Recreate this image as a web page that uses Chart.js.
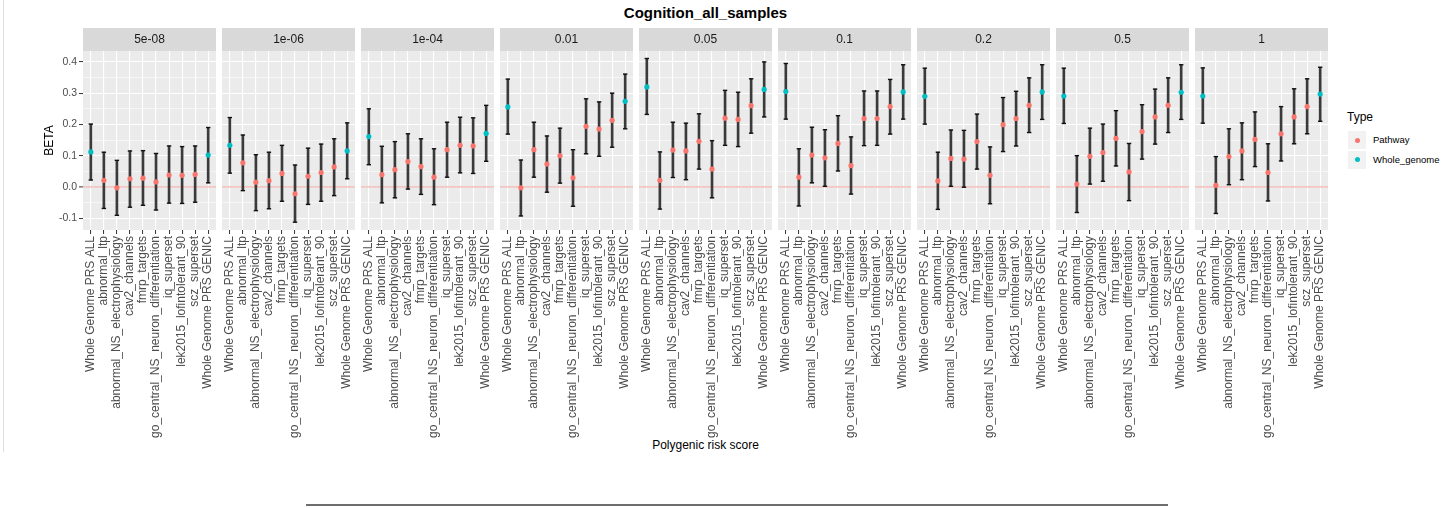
<!DOCTYPE html>
<html>
<head>
<meta charset="utf-8">
<script src="https://cdn.jsdelivr.net/npm/chart.js@4.4.1/dist/chart.umd.min.js"></script>
<style>
  html, body { margin: 0; padding: 0; }
  body { width: 1450px; height: 508px; background: #fff; position: relative; overflow: hidden;
         font-family: "Liberation Sans", Arial, sans-serif; }
  canvas { position: absolute; }
  .txt { position: absolute; white-space: nowrap; }
  #title { left: 0; width: 1411px; top: 4px; text-align: center; font-weight: bold; font-size: 15px; color: #000; }
  #xtitle { left: 0; width: 1411px; top: 438px; text-align: center; font-size: 12px; color: #000; }
  #legTitle { left: 1347px; top: 110px; font-size: 12px; color: #000; }
  .key { position: absolute; left: 1348px; width: 18px; height: 18px; background: #F2F2F2; }
  .dot { position: absolute; left: 6.5px; top: 6.5px; width: 5px; height: 5px; border-radius: 50%; }
  .legLab { left: 1373px; font-size: 9.5px; color: #000; }
  #frameL { position: absolute; left: 3px; top: 0; width: 1px; height: 452px; background: #DDDDDD; }
  #frameB { position: absolute; left: 306px; top: 504px; width: 862px; height: 2px; background: #6E6E6E; }
</style>
</head>
<body>
<div id="frameL"></div>
<div id="frameB"></div>
<div id="title" class="txt">Cognition_all_samples</div>
<div id="xtitle" class="txt">Polygenic risk score</div>
<div id="legTitle" class="txt">Type</div>
<div id="legend"></div>

<script>
// ---- data ----------------------------------------------------------------
const categories = [
  'Whole Genome PRS ALL', 'abnormal_ltp', 'abnormal_NS_electrophysiology', 'cav2_channels',
  'fmrp_targets', 'go_central_NS_neuron_differentiation', 'iq_superset',
  'lek2015_lofintolerant_90', 'scz_superset', 'Whole Genome PRS GENIC'
];
const categoryType = [
  'Whole_genome', 'Pathway', 'Pathway', 'Pathway', 'Pathway',
  'Pathway', 'Pathway', 'Pathway', 'Pathway', 'Whole_genome'
];
const thresholds = ['5e-08', '1e-06', '1e-04', '0.01', '0.05', '0.1', '0.2', '0.5', '1'];
const typeNames = ['Pathway', 'Whole_genome'];

const beta_5e08  = [0.112, 0.021, -0.003, 0.026, 0.028, 0.016, 0.038, 0.037, 0.040, 0.102];
const lower_5e08 = [0.022, -0.069, -0.091, -0.065, -0.059, -0.074, -0.052, -0.053, -0.049, 0.013];
const upper_5e08 = [0.201, 0.111, 0.085, 0.115, 0.116, 0.107, 0.131, 0.129, 0.131, 0.190];

const beta_1e06  = [0.133, 0.077, 0.015, 0.020, 0.043, -0.022, 0.034, 0.046, 0.064, 0.115];
const lower_1e06 = [0.044, -0.012, -0.076, -0.070, -0.046, -0.113, -0.056, -0.046, -0.028, 0.026];
const upper_1e06 = [0.222, 0.166, 0.103, 0.111, 0.133, 0.070, 0.124, 0.137, 0.154, 0.205];

const beta_1e04  = [0.161, 0.039, 0.055, 0.081, 0.065, 0.031, 0.119, 0.133, 0.131, 0.171];
const lower_1e04 = [0.071, -0.051, -0.035, -0.007, -0.024, -0.057, 0.031, 0.045, 0.043, 0.082];
const upper_1e04 = [0.250, 0.130, 0.145, 0.170, 0.154, 0.122, 0.207, 0.223, 0.221, 0.261];

const beta_001  = [0.256, -0.003, 0.119, 0.073, 0.100, 0.029, 0.194, 0.185, 0.213, 0.274];
const lower_001 = [0.169, -0.093, 0.031, -0.017, 0.012, -0.062, 0.106, 0.098, 0.127, 0.186];
const upper_001 = [0.345, 0.086, 0.207, 0.163, 0.188, 0.119, 0.282, 0.272, 0.300, 0.361];

const beta_005  = [0.320, 0.021, 0.118, 0.115, 0.146, 0.057, 0.220, 0.216, 0.260, 0.312];
const lower_005 = [0.232, -0.071, 0.030, 0.023, 0.057, -0.035, 0.133, 0.129, 0.172, 0.224];
const upper_005 = [0.411, 0.112, 0.207, 0.204, 0.234, 0.148, 0.309, 0.303, 0.346, 0.400];

const beta_01  = [0.305, 0.031, 0.102, 0.093, 0.139, 0.068, 0.219, 0.219, 0.257, 0.304];
const lower_01 = [0.217, -0.061, 0.013, 0.002, 0.051, -0.023, 0.132, 0.133, 0.169, 0.217];
const upper_01 = [0.395, 0.122, 0.191, 0.183, 0.228, 0.160, 0.307, 0.307, 0.344, 0.391];

const beta_02  = [0.290, 0.019, 0.091, 0.089, 0.145, 0.037, 0.199, 0.219, 0.261, 0.304];
const lower_02 = [0.201, -0.072, 0.002, -0.001, 0.057, -0.054, 0.113, 0.131, 0.174, 0.216];
const upper_02 = [0.380, 0.111, 0.182, 0.181, 0.233, 0.128, 0.286, 0.306, 0.349, 0.391];

const beta_05  = [0.291, 0.009, 0.098, 0.110, 0.155, 0.048, 0.177, 0.224, 0.261, 0.303];
const lower_05 = [0.203, -0.082, 0.009, 0.018, 0.067, -0.044, 0.089, 0.137, 0.174, 0.216];
const upper_05 = [0.380, 0.100, 0.188, 0.201, 0.244, 0.139, 0.263, 0.313, 0.349, 0.391];

const beta_1  = [0.291, 0.005, 0.097, 0.115, 0.152, 0.046, 0.170, 0.224, 0.257, 0.297];
const lower_1 = [0.204, -0.085, 0.007, 0.023, 0.065, -0.045, 0.083, 0.138, 0.170, 0.210];
const upper_1 = [0.381, 0.097, 0.186, 0.205, 0.240, 0.138, 0.257, 0.314, 0.346, 0.383];

const yTickValues = [-0.1, -0.05, 0, 0.05, 0.1, 0.15, 0.2, 0.25, 0.3, 0.35, 0.4];

// ---- appearance ----------------------------------------------------------
const typeColors = { Pathway: '#F8766D', Whole_genome: '#00BFC4' };
const FONT = '"Liberation Sans", Arial, sans-serif';
Chart.defaults.font.family = FONT;

const Y_MIN = -0.138, Y_MAX = 0.435;
const PANEL_W = 133, PANEL_PITCH = 139, FIRST_LEFT = 83;
const STRIP_H = 23, PLOT_TOP = 28, AREA_H = 179;
const CANVAS_H = 420, SIDE = 10, Y_AXIS_W = 83;
const X_AXIS_H = CANVAS_H - STRIP_H - AREA_H;

const panels = [
  [beta_5e08, lower_5e08, upper_5e08],
  [beta_1e06, lower_1e06, upper_1e06],
  [beta_1e04, lower_1e04, upper_1e04],
  [beta_001, lower_001, upper_001],
  [beta_005, lower_005, upper_005],
  [beta_01, lower_01, upper_01],
  [beta_02, lower_02, upper_02],
  [beta_05, lower_05, upper_05],
  [beta_1, lower_1, upper_1]
];

const isMajor = v => Math.abs(Math.round(v * 10) - v * 10) < 1e-6;
const isZero = v => Math.abs(v) < 1e-9;

// grey panel background + facet strip with its label
const facetPanel = {
  id: 'facetPanel',
  beforeDraw(chart, args, opts) {
    const { ctx, chartArea: a } = chart;
    ctx.save();
    ctx.fillStyle = '#EBEBEB';
    ctx.fillRect(a.left, a.top, a.right - a.left, a.bottom - a.top);
    ctx.fillStyle = '#D9D9D9';
    ctx.fillRect(a.left, a.top - STRIP_H, a.right - a.left, STRIP_H);
    ctx.fillStyle = '#1A1A1A';
    ctx.font = '12px ' + FONT;
    ctx.textAlign = 'center';
    ctx.textBaseline = 'middle';
    ctx.fillText(opts.label, (a.left + a.right) / 2, a.top - STRIP_H / 2 + 0.5);
    ctx.restore();
  }
};

function makePanel(idx) {
  const [beta, lower, upper] = panels[idx];
  const first = idx === 0;
  const panelLeft = FIRST_LEFT + PANEL_PITCH * idx;
  const canvas = document.createElement('canvas');
  const left = first ? 0 : panelLeft - SIDE;
  const width = first ? panelLeft + PANEL_W + SIDE : PANEL_W + 2 * SIDE;
  canvas.width = width;
  canvas.height = CANVAS_H;
  canvas.style.left = left + 'px';
  canvas.style.top = PLOT_TOP + 'px';
  canvas.style.width = width + 'px';
  canvas.style.height = CANVAS_H + 'px';
  document.body.appendChild(canvas);

  const xy = arr => arr.map((v, i) => ({ x: i + 1, y: v }));

  new Chart(canvas, {
    type: 'bar',
    data: {
      datasets: [
        { // estimates
          type: 'line', data: xy(beta), showLine: false, order: 0,
          pointRadius: 2.6, pointHoverRadius: 2.6, pointBorderWidth: 0,
          pointBackgroundColor: categoryType.map(t => typeColors[t])
        },
        { // upper caps
          type: 'line', data: xy(upper), showLine: false, order: 1,
          pointStyle: 'line', pointRadius: 2.2, pointHoverRadius: 2.2,
          pointBorderWidth: 1.4, pointBorderColor: '#111'
        },
        { // lower caps
          type: 'line', data: xy(lower), showLine: false, order: 1,
          pointStyle: 'line', pointRadius: 2.2, pointHoverRadius: 2.2,
          pointBorderWidth: 1.4, pointBorderColor: '#111'
        },
        { // whiskers
          type: 'bar', order: 2, grouped: false, barThickness: 2,
          backgroundColor: '#3A3A3A', borderWidth: 0,
          data: lower.map((v, i) => ({ x: i + 1, y: [v, upper[i]] }))
        }
      ]
    },
    options: {
      responsive: false, animation: false, devicePixelRatio: 1,
      events: [],
      layout: { padding: { top: STRIP_H, left: first ? 0 : SIDE, right: SIDE, bottom: 0 } },
      plugins: {
        legend: { display: false }, tooltip: { enabled: false },
        facetPanel: { label: thresholds[idx] }
      },
      scales: {
        x: {
          type: 'linear', min: 0.4, max: 10.6, offset: false,
          afterBuildTicks: s => { s.ticks = categories.map((c, i) => ({ value: i + 1 })); },
          afterFit: s => { s.height = X_AXIS_H; },
          border: { display: false },
          grid: { offset: false, color: '#FFFFFF', lineWidth: 1.1, drawTicks: true,
                  tickLength: 4, tickColor: '#333333', tickWidth: 1 },
          ticks: {
            autoSkip: false, minRotation: 90, maxRotation: 90, padding: 2,
            color: '#4D4D4D', font: { size: 12 },
            callback: v => categories[Math.round(v) - 1]
          }
        },
        y: {
          type: 'linear', min: Y_MIN, max: Y_MAX,
          afterBuildTicks: s => { s.ticks = yTickValues.map(v => ({ value: v })); },
          afterFit: s => { s.width = first ? Y_AXIS_W : 0; },
          border: { display: false },
          grid: {
            drawTicks: first, tickLength: 4, tickWidth: 1,
            color: c => isZero(c.tick.value) ? '#F3C6C2' : '#FFFFFF',
            lineWidth: c => isZero(c.tick.value) ? 1.8 : (isMajor(c.tick.value) ? 1.1 : 0.55),
            tickColor: c => isMajor(c.tick.value) ? '#333333' : 'rgba(0,0,0,0)'
          },
          ticks: {
            display: first, padding: 2, color: '#4D4D4D', font: { size: 10.5 },
            callback: v => isMajor(v) ? v.toFixed(1) : ''
          },
          title: {
            display: first, text: 'BETA', color: '#000', font: { size: 12 },
            padding: { top: 42, bottom: 0 }
          }
        }
      }
    },
    plugins: [facetPanel]
  });
}

thresholds.forEach((t, i) => makePanel(i));

// legend keys
const legend = document.getElementById('legend');
typeNames.forEach((name, i) => {
  const top = 131 + 19.5 * i;
  const key = document.createElement('div');
  key.className = 'key';
  key.style.top = top + 'px';
  const dot = document.createElement('div');
  dot.className = 'dot';
  dot.style.background = typeColors[name];
  key.appendChild(dot);
  legend.appendChild(key);
  const lab = document.createElement('div');
  lab.className = 'txt legLab';
  lab.style.top = (top + 3) + 'px';
  lab.textContent = name;
  legend.appendChild(lab);
});
</script>
</body>
</html>
